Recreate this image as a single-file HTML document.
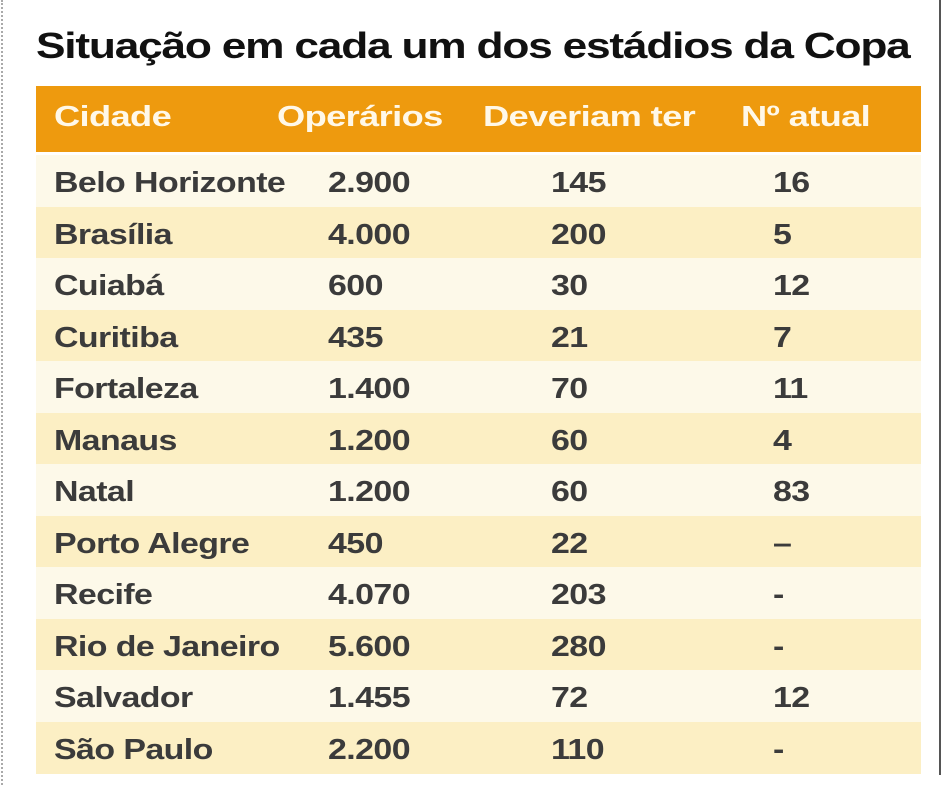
<!DOCTYPE html>
<html><head><meta charset="utf-8"><style>
body{margin:0;width:950px;height:785px;background:#fff;position:relative;overflow:hidden;font-family:"Liberation Sans",sans-serif}
.abs{position:absolute}
#title{left:36px;top:25px;font-size:36px;font-weight:bold;color:#111;letter-spacing:-1px;white-space:nowrap;transform:scaleX(1.23);transform-origin:left}
#header{left:36px;top:86px;width:885px;height:66px;background:#ee9a0e}
.h{position:absolute;top:15px;font-size:29px;font-weight:bold;color:#fff8e8;letter-spacing:-0.5px;white-space:nowrap;transform:scaleX(1.25);transform-origin:left}
.row{position:absolute;left:36px;width:885px;height:52px}
.c{position:absolute;top:12px;font-size:29px;font-weight:bold;color:#3b3b3b;letter-spacing:-0.5px;white-space:nowrap;transform:scaleX(1.17);transform-origin:left}
</style></head><body>
<div class="abs" style="left:1px;top:0;height:785px;border-left:2px dotted #aaa"></div>
<div class="abs" style="left:939px;top:0;height:775px;border-left:2px solid #555"></div>
<div id="title" class="abs">Situação em cada um dos estádios da Copa</div>
<div id="header" class="abs">
<span class="h" style="left:18px">Cidade</span>
<span class="h" style="left:241px">Operários</span>
<span class="h" style="left:447px">Deveriam ter</span>
<span class="h" style="left:705px">Nº atual</span>
</div>
<div id="rows"></div>
<script>
const cities=["Belo Horizonte","Brasília","Cuiabá","Curitiba","Fortaleza","Manaus","Natal","Porto Alegre","Recife","Rio de Janeiro","Salvador","São Paulo"];
const workers=["2.900","4.000","600","435","1.400","1.200","1.200","450","4.070","5.600","1.455","2.200"];
const should=["145","200","30","21","70","60","60","22","203","280","72","110"];
const actual=["16","5","12","7","11","4","83","–","-","-","12","-"];
const root=document.getElementById('rows');
cities.forEach((c,i)=>{
  const r=document.createElement('div');
  r.className='row';
  
  
  r.style.top=(155+i*51.5)+'px';
  r.style.background=i%2?'#fcefc4':'#fdf9e9';
  const vals=[[c,18],[workers[i],292],[should[i],515],[actual[i],737]];
  vals.forEach(([t,x],j)=>{
    const s=document.createElement('span');
    s.className='c';
    
    
    s.style.left=x+'px';
    s.textContent=t;
    r.appendChild(s);
  });
  root.appendChild(r);
});
</script>
</body></html>
